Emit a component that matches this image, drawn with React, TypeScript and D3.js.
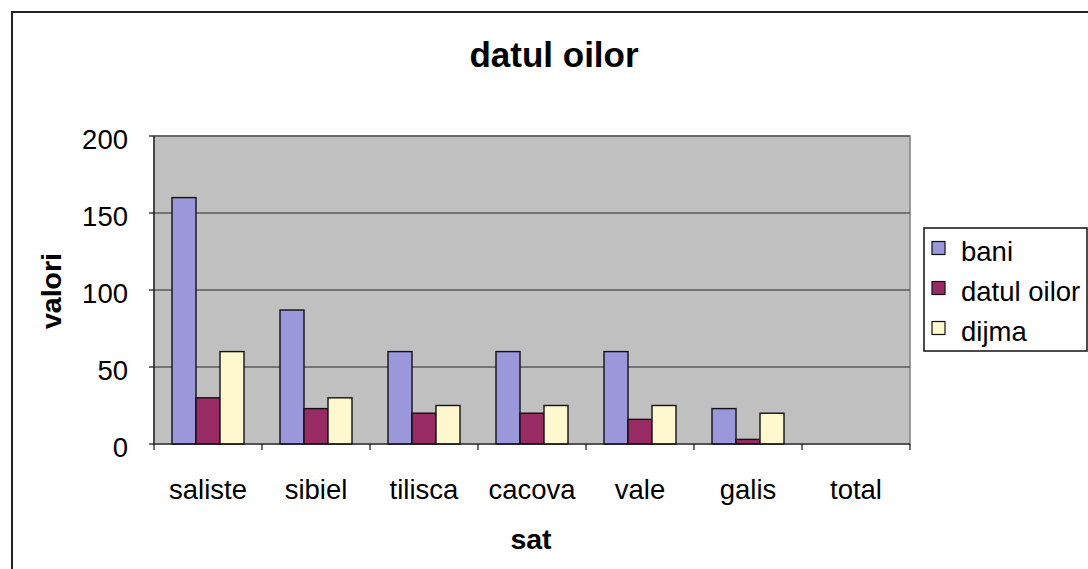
import React, { useEffect, useRef } from 'react';
import * as d3 from 'd3';

const categories = ['saliste', 'sibiel', 'tilisca', 'cacova', 'vale', 'galis', 'total'];
const seriesNames = ['bani', 'datul oilor', 'dijma'];
const bani = [160, 87, 60, 60, 60, 23, 0];
const datulOilor = [30, 23, 20, 20, 16, 3, 0];
const dijma = [60, 30, 25, 25, 25, 20, 0];
const yTicks = [0, 50, 100, 150, 200];
const colors = ['#9A98DA', '#992B64', '#FFF7CE'];

const FONT = '"Liberation Sans", Arial, sans-serif';

export default function App() {
  const svgRef = useRef<SVGSVGElement>(null);

  useEffect(() => {
    if (!svgRef.current) return;
    const svg = d3.select(svgRef.current);
    svg.selectAll('*').remove();

    const W = 1088;
    const H = 569;
    const plot = { left: 154, top: 136, right: 910, bottom: 444 };

    svg.append('rect').attr('width', W).attr('height', H).attr('fill', '#fff');

    // outer chart border (runs off the right/bottom edges)
    svg.append('rect')
      .attr('x', 12).attr('y', 12)
      .attr('width', W).attr('height', H)
      .attr('fill', 'none').attr('stroke', '#222').attr('stroke-width', 2);

    const x = d3.scaleBand<string>().domain(categories).range([plot.left, plot.right]);
    const y = d3.scaleLinear().domain([0, 200]).range([plot.bottom, plot.top]);
    const barW = x.bandwidth() / 4.5;
    const inner = d3.scaleBand<string>().domain(seriesNames)
      .range([x.bandwidth() / 2 - barW * 1.5, x.bandwidth() / 2 + barW * 1.5]);

    // plot area
    svg.append('rect')
      .attr('x', plot.left).attr('y', plot.top)
      .attr('width', plot.right - plot.left).attr('height', plot.bottom - plot.top)
      .attr('fill', '#C0C0C0').attr('stroke', '#808080').attr('stroke-width', 1.5);

    // gridlines
    svg.append('g').selectAll('line')
      .data(yTicks.filter(t => t > 0))
      .enter().append('line')
      .attr('x1', plot.left).attr('x2', plot.right)
      .attr('y1', d => y(d)).attr('y2', d => y(d))
      .attr('stroke', '#5a5a5a').attr('stroke-width', 1.5);

    // bars
    const data = [bani, datulOilor, dijma];
    seriesNames.forEach((name, si) => {
      svg.append('g').selectAll('rect')
        .data(categories.map((c, i) => ({ c, v: data[si][i] })).filter(d => d.v > 0))
        .enter().append('rect')
        .attr('x', d => (x(d.c) ?? 0) + (inner(name) ?? 0))
        .attr('y', d => y(d.v))
        .attr('width', barW)
        .attr('height', d => plot.bottom - y(d.v))
        .attr('fill', colors[si])
        .attr('stroke', '#111').attr('stroke-width', 1.4);
    });

    // y axis
    const yAxis = svg.append('g').attr('transform', `translate(${plot.left},0)`);
    yAxis.append('line')
      .attr('x1', 0).attr('x2', 0).attr('y1', plot.top).attr('y2', plot.bottom)
      .attr('stroke', '#111').attr('stroke-width', 1.2);
    yAxis.selectAll('line.tick')
      .data(yTicks).enter().append('line').attr('class', 'tick')
      .attr('x1', -5).attr('x2', 0)
      .attr('y1', d => y(d)).attr('y2', d => y(d))
      .attr('stroke', '#111').attr('stroke-width', 1.2);
    yAxis.selectAll('text')
      .data(yTicks).enter().append('text')
      .attr('x', -26).attr('y', d => y(d) + 13)
      .attr('text-anchor', 'end')
      .attr('font-family', FONT).attr('font-size', 27.5)
      .text(d => d);

    // x axis
    const xAxis = svg.append('g');
    xAxis.append('line')
      .attr('x1', plot.left).attr('x2', plot.right)
      .attr('y1', plot.bottom).attr('y2', plot.bottom)
      .attr('stroke', '#111').attr('stroke-width', 1.2);
    xAxis.selectAll('line.tick')
      .data([...categories.map(c => x(c) ?? 0), plot.right]).enter().append('line').attr('class', 'tick')
      .attr('x1', d => d).attr('x2', d => d)
      .attr('y1', plot.bottom).attr('y2', plot.bottom + 6)
      .attr('stroke', '#111').attr('stroke-width', 1.2);
    xAxis.selectAll('text')
      .data(categories).enter().append('text')
      .attr('x', d => (x(d) ?? 0) + x.bandwidth() / 2)
      .attr('y', 499)
      .attr('text-anchor', 'middle')
      .attr('font-family', FONT).attr('font-size', 27.5)
      .text(d => d);

    // titles
    svg.append('text')
      .attr('x', 554).attr('y', 67)
      .attr('text-anchor', 'middle')
      .attr('font-family', FONT).attr('font-weight', 'bold').attr('font-size', 35)
      .text('datul oilor');
    svg.append('text')
      .attr('x', 531).attr('y', 549)
      .attr('text-anchor', 'middle')
      .attr('font-family', FONT).attr('font-weight', 'bold').attr('font-size', 28.5)
      .text('sat');
    svg.append('text')
      .attr('transform', 'translate(61,291) rotate(-90)')
      .attr('text-anchor', 'middle')
      .attr('font-family', FONT).attr('font-weight', 'bold').attr('font-size', 28.5)
      .text('valori');

    // legend
    const lg = svg.append('g');
    lg.append('rect')
      .attr('x', 924).attr('y', 228).attr('width', 163).attr('height', 123)
      .attr('fill', '#fff').attr('stroke', '#111').attr('stroke-width', 1.5);
    const items = lg.selectAll('g.item')
      .data(seriesNames).enter().append('g').attr('class', 'item')
      .attr('transform', (_, i) => `translate(932,${248 + i * 40})`);
    items.append('rect')
      .attr('x', 0).attr('y', -6.5).attr('width', 13).attr('height', 13)
      .attr('fill', (_, i) => colors[i]).attr('stroke', '#111').attr('stroke-width', 1.2);
    items.append('text')
      .attr('x', 29).attr('y', 13)
      .attr('font-family', FONT).attr('font-size', 27.5)
      .text(d => d);
  }, []);

  return (
    <svg
      ref={svgRef}
      width={1088}
      height={569}
      style={{ position: 'absolute', left: 0, top: 0, display: 'block' }}
    />
  );
}
